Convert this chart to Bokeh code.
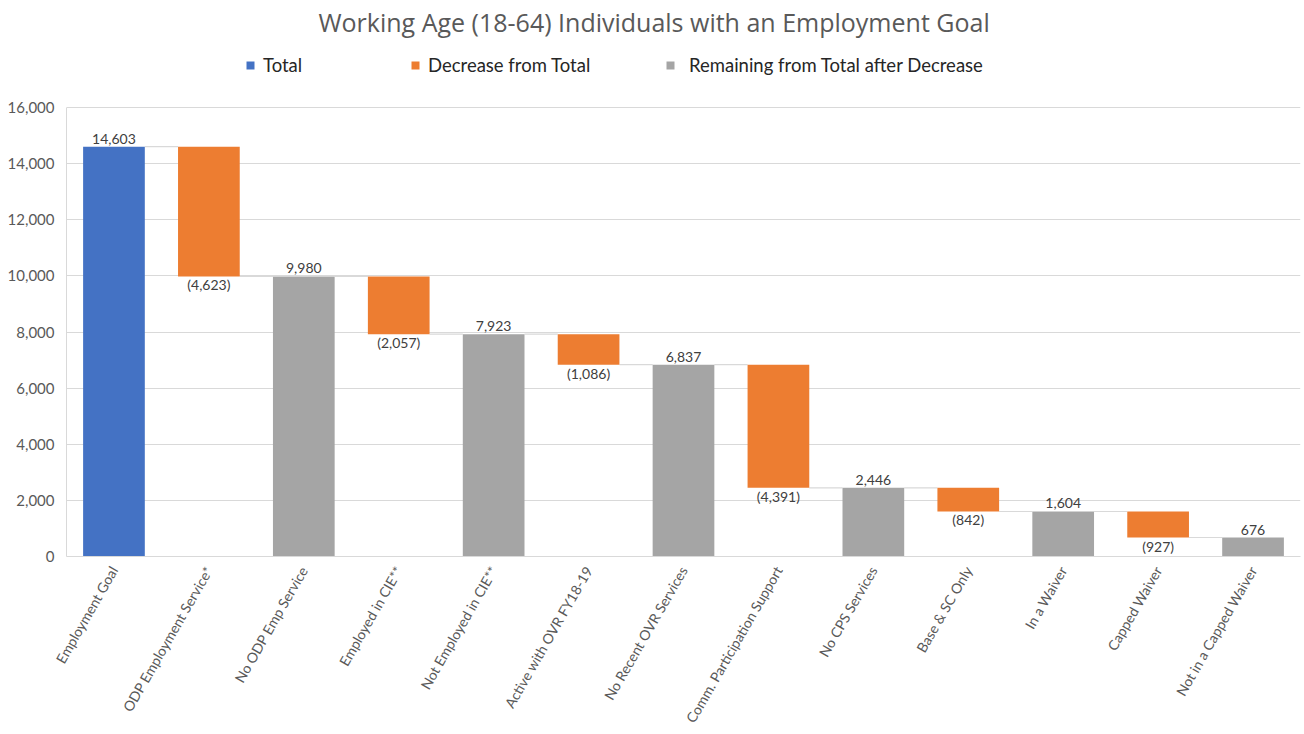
import math
from bokeh.plotting import figure
from bokeh.models import (ColumnDataSource, Range1d, FixedTicker, Legend, LegendItem,
                          NumeralTickFormatter, LabelSet)
from bokeh.core.properties import value
from bokeh.embed import file_html
from bokeh.resources import INLINE

title_text = "Working Age (18-64) Individuals with an Employment Goal"
categories = ["Employment Goal", "ODP Employment Service*", "No ODP Emp Service",
              "Employed in CIE**", "Not Employed in CIE**", "Active with OVR FY18-19",
              "No Recent OVR Services", "Comm. Participation Support", "No CPS Services",
              "Base & SC Only", "In a Waiver", "Capped Waiver", "Not in a Capped Waiver"]
totals = [14603, 9980, 7923, 6837, 2446, 1604, 676]
decreases = [4623, 2057, 1086, 4391, 842, 927]
series_names = ["Total", "Decrease from Total", "Remaining from Total after Decrease"]
y_ticks = [0, 2000, 4000, 6000, 8000, 10000, 12000, 14000, 16000]
y_max = 16000

BLUE, ORANGE, GREY = "#4472C4", "#ED7D31", "#A5A5A5"
TXT = "#595959"
FONT = "Lato"
W = 0.65

# layout constants (pixels)
FRAME_TOP = 40       # frame begins just under the title
AXIS_TOP = 107       # where y_max sits
FRAME_BOTTOM = 556
y_end = y_max * (FRAME_BOTTOM - FRAME_TOP) / (FRAME_BOTTOM - AXIS_TOP)

total_x = [2 * i for i in range(len(totals))]
dec_x = [2 * i + 1 for i in range(len(decreases))]
dec_top = totals[:-1]
dec_bottom = [t - d for t, d in zip(totals[:-1], decreases)]

src_blue = ColumnDataSource(dict(x=total_x[:1], top=totals[:1], lab=[f"{v:,}" for v in totals[:1]]))
src_grey = ColumnDataSource(dict(x=total_x[1:], top=totals[1:], lab=[f"{v:,}" for v in totals[1:]]))
src_dec = ColumnDataSource(dict(x=dec_x, top=dec_top, bottom=dec_bottom,
                                lab=[f"({v:,})" for v in decreases]))

# connectors between consecutive bars
cx0, cx1, cy = [], [], []
for i in range(len(categories) - 1):
    level = totals[i // 2] if i % 2 == 0 else dec_bottom[i // 2]
    cx0.append(i + W / 2)
    cx1.append(i + 1 - W / 2)
    cy.append(level)
src_conn = ColumnDataSource(dict(x0=cx0, x1=cx1, y=cy))

p = figure(width=1304, height=734, output_backend="svg", toolbar_location=None,
           x_range=Range1d(-0.5, len(categories) - 0.5), y_range=Range1d(0, y_end),
           min_border_left=66, min_border_right=4, min_border_top=FRAME_TOP,
           min_border_bottom=734 - FRAME_BOTTOM)
p.outline_line_color = None
p.background_fill_color = "white"
p.border_fill_color = "white"

p.title.text = title_text
p.title.align = "left"
p.title.offset = 252
p.title.standoff = 4
p.title.text_font = "Open Sans"
p.title.text_font_size = "25px"
p.title.text_font_style = "normal"
p.title.text_color = TXT

p.segment(x0="x0", y0="y", x1="x1", y1="y", source=src_conn, line_color="#D9D9D9", line_width=1.2)
r_blue = p.vbar(x="x", top="top", bottom=0, width=W, source=src_blue, fill_color=BLUE, line_color=None)
r_grey = p.vbar(x="x", top="top", bottom=0, width=W, source=src_grey, fill_color=GREY, line_color=None)
r_dec = p.vbar(x="x", top="top", bottom="bottom", width=W, source=src_dec, fill_color=ORANGE, line_color=None)

lab_kw = dict(text_font=value(FONT), text_font_size=value("14px"), text_color="#404040", text_align="center")
p.add_layout(LabelSet(x="x", y="top", text="lab", source=src_blue, text_baseline="bottom", y_offset=3, **lab_kw))
p.add_layout(LabelSet(x="x", y="top", text="lab", source=src_grey, text_baseline="bottom", y_offset=3, **lab_kw))
p.add_layout(LabelSet(x="x", y="bottom", text="lab", source=src_dec, text_baseline="top", y_offset=0, **lab_kw))

# axes
p.xaxis.ticker = FixedTicker(ticks=list(range(len(categories))))
p.xaxis.major_label_overrides = {i: c for i, c in enumerate(categories)}
p.xaxis.major_label_orientation = math.pi / 3
p.xaxis.major_label_text_font = FONT
p.xaxis.major_label_text_font_size = "14px"
p.xaxis.major_label_text_color = TXT
p.xaxis.major_tick_line_color = None
p.xaxis.minor_tick_line_color = None
p.xaxis.axis_line_color = "#D9D9D9"
p.xaxis.major_label_standoff = 5

p.yaxis.ticker = FixedTicker(ticks=y_ticks)
p.yaxis.bounds = (0, y_max)
p.yaxis.formatter = NumeralTickFormatter(format="0,0")
p.yaxis.major_label_text_font = FONT
p.yaxis.major_label_text_font_size = "15px"
p.yaxis.major_label_text_color = TXT
p.yaxis.major_tick_line_color = None
p.yaxis.minor_tick_line_color = None
p.yaxis.axis_line_color = "#D9D9D9"
p.yaxis.major_label_standoff = 6

p.xgrid.grid_line_color = None
p.ygrid.grid_line_color = "#D9D9D9"

# legends (three separate, placed inside the extended frame above y_max)
leg_center_from_bottom = FRAME_BOTTOM - 66
leg_x = [245 - 66, 410 - 66, 665 - 66]
leg_standoff = [8, 8, 14]
for name, r, lx, st in zip(series_names, [r_blue, r_dec, r_grey], leg_x, leg_standoff):
    lg = Legend(items=[LegendItem(label=name, renderers=[r])],
                location=(lx, leg_center_from_bottom - 10),
                orientation="horizontal", border_line_color=None, background_fill_alpha=0,
                glyph_width=10, glyph_height=10, label_standoff=st, padding=0, margin=0,
                label_height=20,
                label_text_font=FONT, label_text_font_size="18.5px", label_text_color="#262626")
    p.add_layout(lg, "center")

open("out.html", "w").write(file_html(p, INLINE))
